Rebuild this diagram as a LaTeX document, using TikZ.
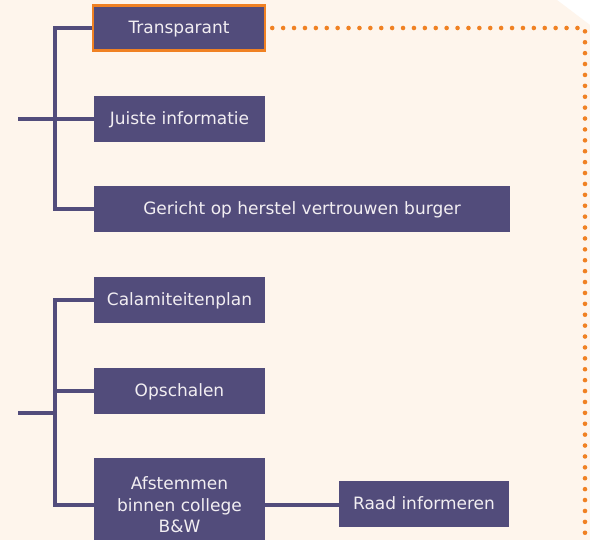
\documentclass[tikz,border=0pt]{standalone}
\usepackage{fontspec}
\setmainfont{DejaVu Sans}
\definecolor{bg}{HTML}{FEF5EC}
\definecolor{purp}{HTML}{524C7B}
\definecolor{orng}{HTML}{F08123}
\definecolor{txt}{HTML}{F2EEF2}
\begin{document}
\begin{tikzpicture}[x=1pt,y=-1pt,
  box/.style={fill=purp,text=txt,inner sep=0pt,minimum height=46pt,font=\fontsize{17}{21.5}\selectfont,align=center,text height=12pt,text depth=-2pt},
  conn/.style={draw=purp,line width=4pt},
  dotline/.style={draw=orng,line width=4.6pt,line cap=round,dash pattern=on 0pt off 10.9pt}]
\useasboundingbox (0,0) rectangle (590,540);
\clip (0,0) rectangle (590,540);
\fill[white] (0,0) rectangle (590,540);
\fill[bg] (0,0) -- (557,0) -- (590,25) -- (590,540) -- (0,540) -- cycle;
% group 1
\node[box,minimum width=172pt,draw=orng,line width=2.5pt,minimum height=45pt] (T) at (179,28) {Transparant};
\node[box,minimum width=171pt] (J) at (179.5,119) {Juiste informatie};
\node[box,minimum width=416pt] (G) at (302,209) {Gericht op herstel vertrouwen burger};
% group 2
\node[box,minimum width=171pt] (C) at (179.5,300) {Calamiteitenplan};
\node[box,minimum width=171pt] (O) at (179.5,391) {Opschalen};
\node[box,minimum width=171pt,minimum height=94pt,text height={},text depth={}] (A) at (179.5,505) {Afstemmen\\binnen college\\B\&W};
\node[box,minimum width=170pt] (R) at (424,504) {Raad informeren};
% connectors
\coordinate (s1) at (18,119);
\coordinate (k1) at (55,119);
\coordinate (s2) at (18,413);
\coordinate (k2) at (55,413);
\coordinate (d1) at (585,28);
\coordinate (d2) at (585,545);
\draw[conn] (s1) -- (k1);
\draw[conn] (T.west) -| (k1) |- (G.west);
\draw[conn] (k1) -- (J.west);
\draw[conn] (s2) -- (k2);
\draw[conn] (C.west) -| (k2) |- (A.west);
\draw[conn] (O.west -| k2) -- (O.west);
\draw[conn] (A.east) -- (A.east -| R.west);
\draw[dotline] ([xshift=6pt]T.east) -- (d1) -- (d2);
\end{tikzpicture}
\end{document}
